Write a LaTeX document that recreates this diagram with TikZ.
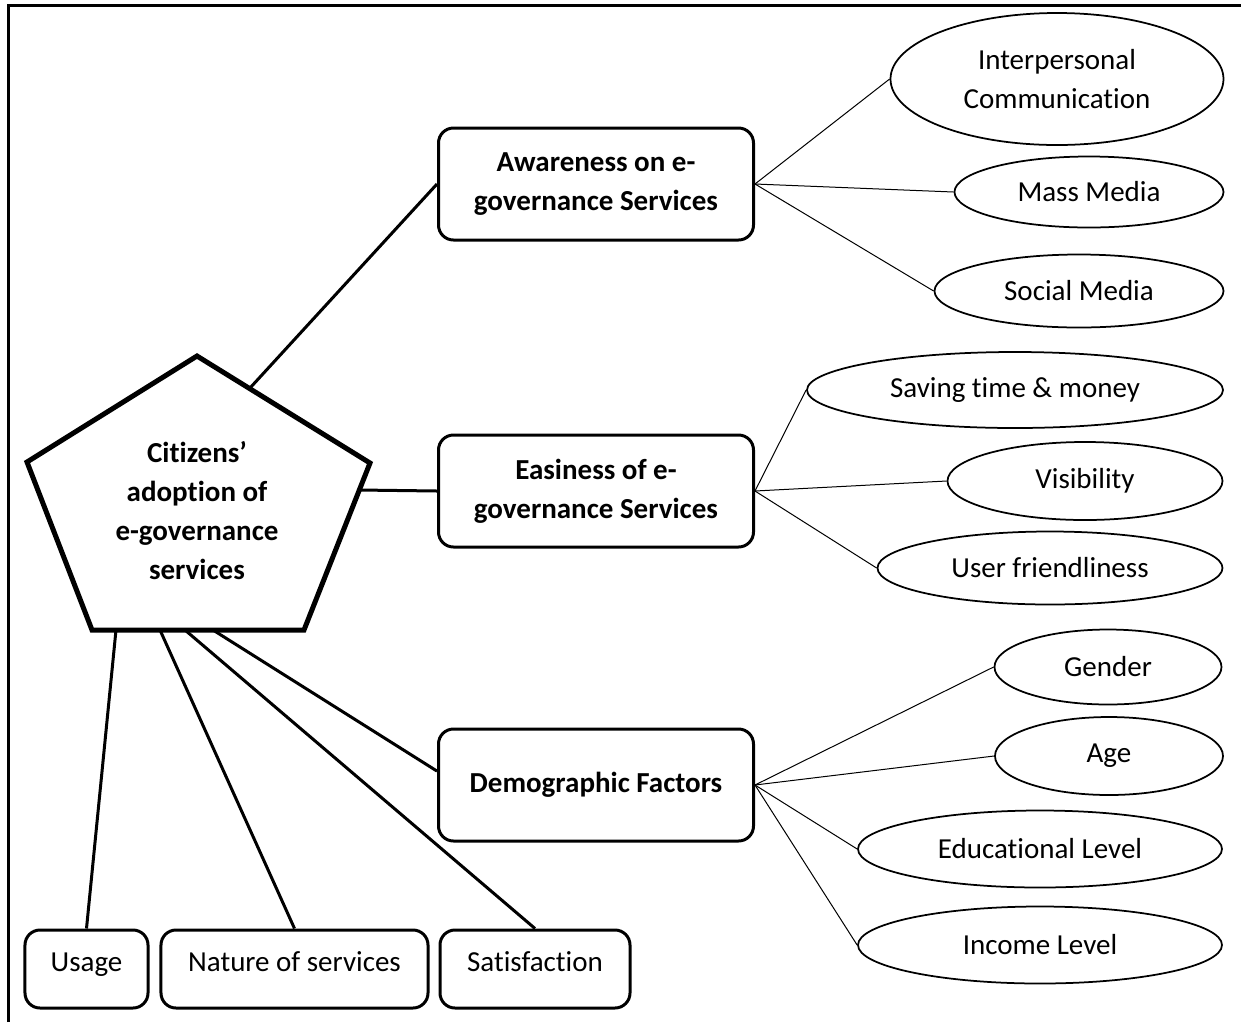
\documentclass[tikz,border=0pt]{standalone}
\usepackage{fontspec}
\setmainfont{Carlito}[Ligatures=NoCommon]
\usetikzlibrary{shapes.geometric}

\begin{document}
\begin{tikzpicture}[x=0.4pt,y=-0.4pt,
  factor/.style = {draw,rounded corners=6pt,line width=1.2pt,fill=white,align=center,font=\fontsize{11.6}{15.6}\selectfont\bfseries,minimum width=126pt,minimum height=44.8pt},
  outcome/.style = {draw,rounded corners=6pt,line width=1.2pt,fill=white,font=\fontsize{11.6}{15.6}\selectfont,text height=0.7em,text depth=0.5em,minimum height=31.2pt},
  item/.style = {draw,ellipse,line width=0.7pt,fill=white,align=center,inner sep=0pt,font=\fontsize{11.6}{15.6}\selectfont},
  link/.style = {line width=1.2pt},
  twig/.style = {line width=0.4pt}]
\useasboundingbox (0,0) rectangle (1241,1022);
\fill[white] (0,0) rectangle (1241,1022);
\draw[line width=1.2pt] (8,1022) -- (8,5) -- (1241,5);

\coordinate (p1) at (197,356);
\coordinate (p2) at (370,463);
\coordinate (p3) at (304,630);
\coordinate (p4) at (92,630);
\coordinate (p5) at (27,462);
\draw[line width=2pt] (p1) -- (p2) -- (p3) -- (p4) -- (p5) -- cycle;
\node[align=center,font=\fontsize{11.6}{15.6}\selectfont\bfseries] (adopt) at (197,511) {Citizens’\\adoption of\\e-governance\\services};

\coordinate (pAw) at (250,388);
\coordinate (pEa) at (359,490);
\coordinate (pUs) at (116,630);
\coordinate (pNa) at (160,630);
\coordinate (pSa) at (185,630);
\coordinate (pDe) at (213,630);

\node[factor] (aware) at (596,184) {Awareness on e-\\governance Services};
\node[factor] (easy) at (596,491) {Easiness of e-\\governance Services};
\node[factor] (demo) at (596,785) {\raisebox{2pt}{Demographic Factors}};

\node[outcome,minimum width=49.2pt] (usage) at (86.5,969) {Usage};
\node[outcome,minimum width=106.8pt] (nature) at (294.5,969) {Nature of services};
\node[outcome,minimum width=76pt] (satis) at (535,969) {Satisfaction};

\node[item,minimum width=133.2pt,minimum height=52.8pt] (inter) at (1057,79) {Interpersonal\\Communication};
\node[item,minimum width=107.6pt,minimum height=28.4pt] (mass) at (1089,192) {Mass Media};
\node[item,minimum width=115.6pt,minimum height=29.2pt] (social) at (1079,291) {Social Media};
\node[item,minimum width=166.4pt,minimum height=30.4pt] (saving) at (1015,390) {Saving time \& money};
\node[item,minimum width=110pt,minimum height=31.2pt] (visib) at (1085,481) {Visibility};
\node[item,minimum width=138pt,minimum height=29.2pt] (user) at (1050,568) {User friendliness};
\node[item,minimum width=90.8pt,minimum height=30pt] (gender) at (1108,667) {Gender};
\node[item,minimum width=91.2pt,minimum height=31.2pt] (age) at (1109,756) {Age};
\node[item,minimum width=145.6pt,minimum height=30.8pt] (educ) at (1040,849) {Educational Level};
\node[item,minimum width=145.6pt,minimum height=30.8pt] (income) at (1040,945) {Income Level};

\draw[link] (pAw) -- (aware.west);
\draw[link] (pEa) -- (easy.west);
\draw[link] (pDe) -- (demo.175);
\draw[link] (pUs) -- (usage.north);
\draw[link] (pNa) -- (nature.north);
\draw[link] (pSa) -- (satis.north);

\draw[twig] (aware.east) -- (inter.west);
\draw[twig] (aware.east) -- (mass.west);
\draw[twig] (aware.east) -- (social.west);
\draw[twig] (easy.east) -- (saving.west);
\draw[twig] (easy.east) -- (visib.west);
\draw[twig] (easy.east) -- (user.west);
\draw[twig] (demo.east) -- (gender.west);
\draw[twig] (demo.east) -- (age.west);
\draw[twig] (demo.east) -- (educ.west);
\draw[twig] (demo.east) -- (income.west);
\end{tikzpicture}
\end{document}
